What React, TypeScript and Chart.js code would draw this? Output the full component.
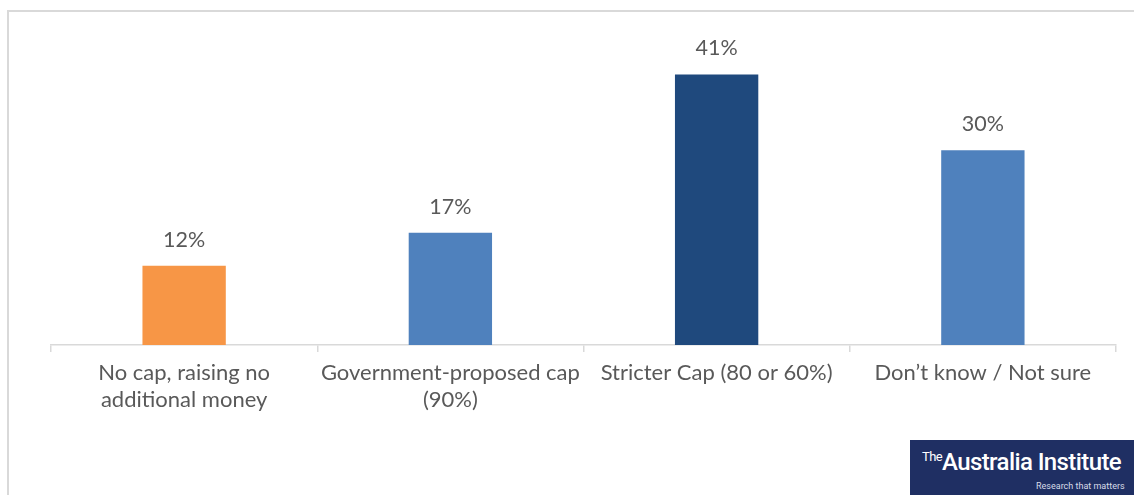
import React, { useEffect, useRef } from "react";
import { Chart, registerables } from "chart.js";

Chart.register(...registerables);

const categories: (string | string[])[] = [
  ["No cap, raising no", "additional money"],
  ["Government-proposed cap", "(90%)"],
  "Stricter Cap (80 or 60%)",
  "Don’t know / Not sure",
];
const values: number[] = [12, 17, 41, 29.5];
const barColors: string[] = ["#F79646", "#4F81BD", "#1F497D", "#4F81BD"];
const valueLabels: string[] = ["12%", "17%", "41%", "30%"];

const FONT = "Lato, 'Open Sans', sans-serif";
const TEXT = "#595959";

const dataLabelPlugin = {
  id: "dataLabels",
  afterDatasetsDraw(chart: any) {
    const ctx = chart.ctx;
    const meta = chart.getDatasetMeta(0);
    ctx.save();
    ctx.font = `21.5px ${FONT}`;
    ctx.fillStyle = TEXT;
    ctx.textAlign = "center";
    ctx.textBaseline = "alphabetic";
    meta.data.forEach((bar: any, i: number) => {
      ctx.fillText(valueLabels[i], bar.x, bar.y - 19);
    });
    ctx.restore();
  },
};

export default function App() {
  const ref = useRef<HTMLCanvasElement | null>(null);
  useEffect(() => {
    if (!ref.current) return;
    const chart = new Chart(ref.current, {
      type: "bar",
      data: {
        labels: categories,
        datasets: [
          {
            data: values,
            backgroundColor: barColors,
            borderWidth: 0,
            categoryPercentage: 1,
            barPercentage: 0.313,
          },
        ],
      },
      options: {
        responsive: false,
        animation: false,
        maintainAspectRatio: false,
        layout: { padding: { left: 51, right: 18, top: 15, bottom: 0 } },
        plugins: { legend: { display: false }, tooltip: { enabled: false } },
        scales: {
          y: { display: false, min: 0, max: 50 },
          x: {
            afterFit: (scale: any) => {
              scale.height = 150;
            },
            border: { display: true, color: "#D9D9D9", width: 1.5 },
            grid: {
              display: true,
              offset: true,
              drawOnChartArea: false,
              drawTicks: true,
              tickLength: 7,
              color: "#D9D9D9",
              lineWidth: 1.5,
            },
            ticks: {
              color: TEXT,
              font: { family: FONT, size: 22, lineHeight: 1.25 },
              padding: 7,
              maxRotation: 0,
              autoSkip: false,
            },
          },
        },
      },
      plugins: [dataLabelPlugin],
    });
    return () => chart.destroy();
  }, []);

  return (
    <div
      style={{
        position: "fixed",
        left: 0,
        top: 0,
        width: 1134,
        height: 495,
        overflow: "hidden",
        background: "#FFFFFF",
      }}
    >
      <div
        style={{
          position: "absolute",
          left: 7,
          top: 10,
          width: 1300,
          height: 600,
          borderLeft: "2px solid #D9D9D9",
          borderTop: "2px solid #D9D9D9",
        }}
      />
      <canvas
        ref={ref}
        width={1134}
        height={495}
        style={{ position: "absolute", left: 0, top: 0, width: 1134, height: 495 }}
      />
      <div
        style={{
          position: "absolute",
          left: 910,
          top: 440,
          width: 230,
          height: 60,
          background: "#1F2F63",
          color: "#FFFFFF",
          fontFamily: "'Liberation Sans Narrow', Roboto, sans-serif",
        }}
      >
        <div style={{ position: "absolute", left: 12, top: 10, whiteSpace: "nowrap", lineHeight: 1 }}>
          <span style={{ fontSize: 13, verticalAlign: "top", letterSpacing: -0.6 }}>The</span>
          <span style={{ fontSize: 24, letterSpacing: -0.6, fontWeight: 500 }}>Australia Institute</span>
        </div>
        <div
          style={{
            position: "absolute",
            left: 126,
            top: 42,
            fontSize: 9,
            whiteSpace: "nowrap",
            color: "#D8DCE8",
            lineHeight: 1,
          }}
        >
          Research that matters
        </div>
      </div>
    </div>
  );
}
